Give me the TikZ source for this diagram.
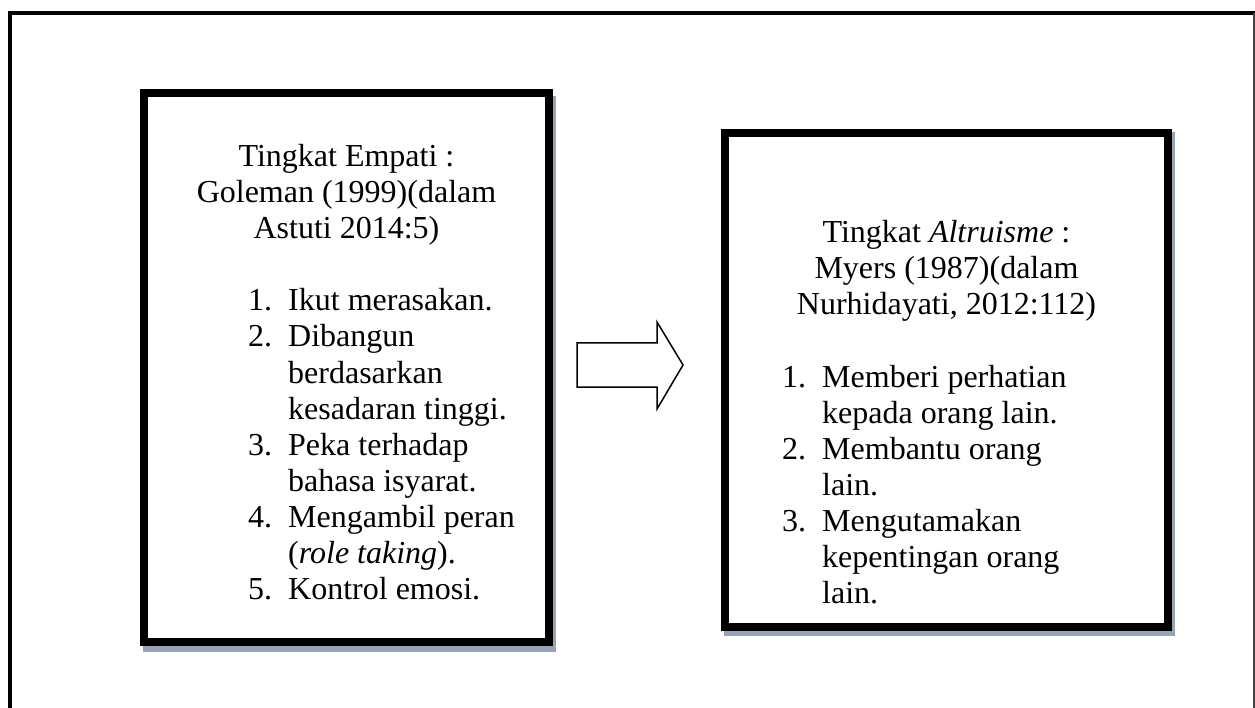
\documentclass[tikz,border=0pt]{standalone}
\usepackage{fontspec}
\setmainfont{Liberation Serif}
\definecolor{shadowc}{HTML}{98A4B4}
\begin{document}
\begin{tikzpicture}[x=1pt,y=-1pt,
  txt/.style={font=\fontsize{32}{36}\selectfont, inner sep=0pt, anchor=base},
  itm/.style={txt, anchor=base west},
  box/.style={draw=black, line width=8pt, fill=white, rectangle, inner sep=0pt},
  shadowbox/.style={fill=shadowc}]
\useasboundingbox (0,0) rectangle (1255,708);
% outer frame
\draw[line width=4pt] (10,708) -- (10,13.5) -- (1255,13.5);
\draw[line width=2pt, draw=black!75] (1254,13.5) -- (1254,708);
% left box
\fill[shadowbox] (143,96) rectangle (556,652);
\node[box, minimum width=405pt, minimum height=549pt] (L) at (346.5,367.5) {};
% right box
\fill[shadowbox] (724,132) rectangle (1175,636);
\node[box, minimum width=443pt, minimum height=494pt] (R) at (946.5,380) {};
% block arrow
\draw[line width=1.5pt, line join=miter] (577,343) -- (657,343) -- (657,322) -- (683,365) -- (657,409) -- (657,387) -- (577,387) -- cycle;
% left text
\node[txt] (l1) at (346.5,167) {Tingkat Empati :};
\node[txt] (l2) at (346.5,203) {Goleman (1999)(dalam};
\node[txt] (l3) at (346.5,239) {Astuti 2014:5)};
\node[itm] (ln1) at (248,311) {1.};
\node[itm] (lt1) at (288,311) {Ikut merasakan.};
\node[itm] (ln2) at (248,347) {2.};
\node[itm] (lt2) at (288,347) {Dibangun};
\node[itm] (lt2b) at (288,383) {berdasarkan};
\node[itm] (lt2c) at (288,419) {kesadaran tinggi.};
\node[itm] (ln3) at (248,455) {3.};
\node[itm] (lt3) at (288,455) {Peka terhadap};
\node[itm] (lt3b) at (288,491) {bahasa isyarat.};
\node[itm] (ln4) at (248,527) {4.};
\node[itm] (lt4) at (288,527) {Mengambil peran};
\node[itm] (lt4b) at (288,563) {(\textit{role taking}).};
\node[itm] (ln5) at (248,599) {5.};
\node[itm] (lt5) at (288,599) {Kontrol emosi.};
% right text
\node[txt] (r1) at (946.5,243) {Tingkat \textit{Altruisme} :};
\node[txt] (r2) at (946.5,279) {Myers (1987)(dalam};
\node[txt] (r3) at (946.5,315) {Nurhidayati, 2012:112)};
\node[itm] (rn1) at (782,387) {1.};
\node[itm] (rt1) at (822,387) {Memberi perhatian};
\node[itm] (rt1b) at (822,423) {kepada orang lain.};
\node[itm] (rn2) at (782,459) {2.};
\node[itm] (rt2) at (822,459) {Membantu orang};
\node[itm] (rt2b) at (822,495) {lain.};
\node[itm] (rn3) at (782,531) {3.};
\node[itm] (rt3) at (822,531) {Mengutamakan};
\node[itm] (rt3b) at (822,567) {kepentingan orang};
\node[itm] (rt3c) at (822,603) {lain.};
\end{tikzpicture}
\end{document}
